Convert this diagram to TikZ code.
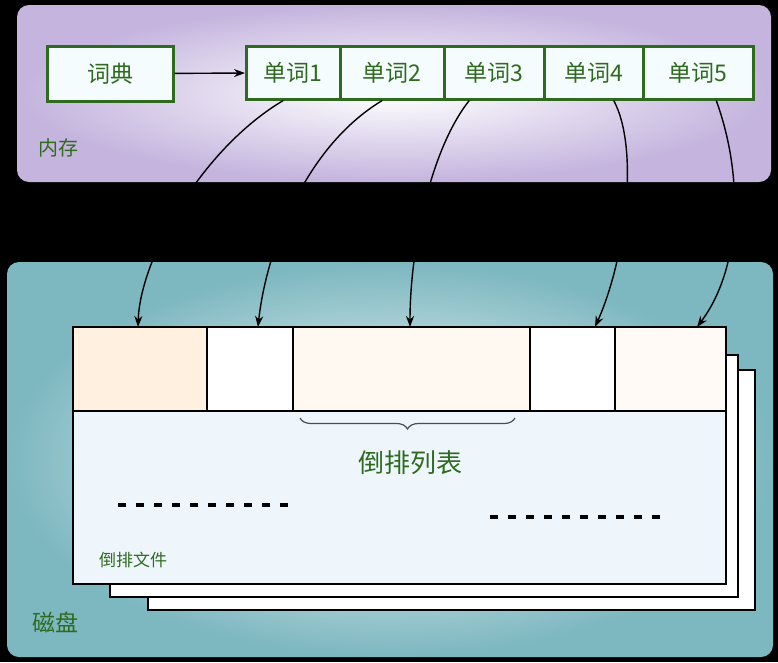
\documentclass[tikz,border=0pt]{standalone}
\usepackage{fontspec}
\newfontfamily\cjk{Noto Sans CJK SC}
\usetikzlibrary{arrows.meta,decorations.pathreplacing}
\definecolor{gtext}{HTML}{2E6B1E}
\definecolor{gbord}{HTML}{2E6B1E}
\definecolor{memc}{HTML}{C4B4DE}
\definecolor{diskc}{HTML}{7DB7C0}
\definecolor{pagec}{HTML}{EEF6FC}
\tikzset{
 wordbox/.style={draw=gbord,line width=2.5pt,fill=cyan!4,text=gtext,font=\cjk\fontsize{23}{25}\selectfont,anchor=north west,inner sep=0pt},
 conn/.style={-{Stealth[length=11pt,width=8pt]},line width=1.4pt},
 cell/.style={draw=black,line width=1.4pt}
}
\begin{document}
\begin{tikzpicture}[x=1pt,y=-1pt]
\fill[black] (0,0) rectangle (778,662);
\useasboundingbox (0,0) rectangle (778,662);
% memory
\shade[inner color=white,outer color=memc,rounded corners=12pt] (17,5) rectangle (771,182);
\node[text=gtext,font=\cjk\fontsize{20}{22}\selectfont] (mem) at (58,148) {内存};
% disk
\shade[inner color=white,outer color=diskc,rounded corners=12pt] (7,262) rectangle (773,657);
\node[text=gtext,font=\cjk\fontsize{23}{25}\selectfont] (disk) at (55,622) {磁盘};
% pages
\draw[cell,fill=white] (148,370) rectangle (755,610);
\draw[cell,fill=white] (110,355) rectangle (738,597);
\draw[cell,fill=pagec] (73,327) rectangle (726,584);
\draw[cell,fill=orange!12] (73,327) rectangle (207,411);
\draw[cell,fill=white] (207,327) rectangle (293,411);
\draw[cell,fill=orange!5] (293,327) rectangle (530,411);
\draw[cell,fill=white] (530,327) rectangle (615,411);
\draw[cell,fill=orange!4] (615,327) rectangle (726,411);
\coordinate (c1) at (138,327);\coordinate (c2) at (258,327);\coordinate (c3) at (410,327);
\coordinate (c4) at (595,327);\coordinate (c5) at (697,327);
\draw[decorate,decoration={brace,mirror,amplitude=11pt},line width=1.2pt,draw=black!70] (300,418) -- (515,418);
\node[text=gtext,font=\cjk\fontsize{26}{28}\selectfont] (list) at (410,463) {倒排列表};
\draw[line width=3.5pt,dash pattern=on 8pt off 10pt] (118,505) -- (292,505);
\draw[line width=3.5pt,dash pattern=on 8pt off 10pt] (490,517) -- (663,517);
\node[text=gtext,font=\cjk\fontsize{17}{19}\selectfont] (file) at (133,560) {倒排文件};
% nodes
\node[wordbox,minimum width=126pt,minimum height=55pt] (dict) at (46,45) {词典};
\node[wordbox,minimum width=94pt,minimum height=53pt] (w1) at (245,45) {单词1};
\node[wordbox,minimum width=104pt,minimum height=53pt] (w2) at (339,45) {单词2};
\node[wordbox,minimum width=100pt,minimum height=53pt] (w3) at (443,45) {单词3};
\node[wordbox,minimum width=99pt,minimum height=53pt] (w4) at (543,45) {单词4};
\node[wordbox,minimum width=110pt,minimum height=53pt] (w5) at (642,45) {单词5};
\draw[conn] (dict) -- (w1);
\draw[conn] ([xshift=-10pt]w1.south) .. controls (200,150) and (140,260) .. (c1);
\draw[conn] ([xshift=-10pt]w2.south) .. controls (300,150) and (265,260) .. (c2);
\draw[conn] ([xshift=-25pt]w3.south) .. controls (430,150) and (410,250) .. (c3);
\draw[conn] ([xshift=20pt]w4.south) .. controls (640,150) and (625,260) .. (c4);
\draw[conn] ([xshift=18pt]w5.south) .. controls (745,180) and (740,270) .. (c5);
\end{tikzpicture}
\end{document}
